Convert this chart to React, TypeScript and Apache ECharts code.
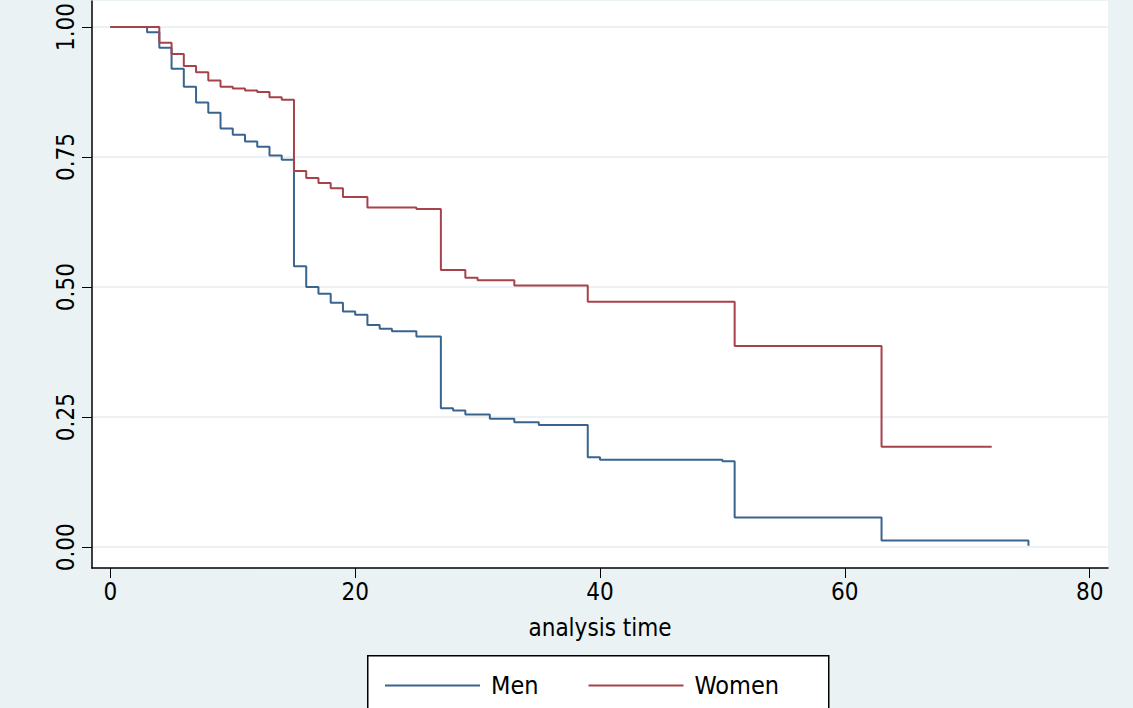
import { useEffect, useRef } from "react";
import * as echarts from "echarts";

const menTimes = [0, 3, 4, 5, 6, 7, 8, 9, 10, 11, 12, 13, 14, 15, 16, 17, 18, 19, 20, 21, 22, 23, 25, 27, 28, 29, 31, 33, 35, 39, 40, 50, 51, 63, 75, 75];
const menSurv = [1, 0.99, 0.96, 0.92, 0.885, 0.855, 0.835, 0.805, 0.793, 0.78, 0.77, 0.753, 0.745, 0.54, 0.5, 0.487, 0.47, 0.453, 0.447, 0.427, 0.42, 0.415, 0.405, 0.267, 0.263, 0.255, 0.247, 0.24, 0.235, 0.173, 0.168, 0.165, 0.057, 0.013, 0.013, 0.003];

const womenTimes = [0, 4, 5, 6, 7, 8, 9, 10, 11, 12, 13, 14, 15, 16, 17, 18, 19, 21, 25, 27, 29, 30, 33, 39, 51, 63, 72];
const womenSurv = [1, 0.97, 0.948, 0.925, 0.913, 0.897, 0.885, 0.882, 0.878, 0.875, 0.865, 0.86, 0.723, 0.71, 0.7, 0.69, 0.673, 0.653, 0.65, 0.533, 0.518, 0.513, 0.503, 0.472, 0.387, 0.193, 0.193];

const xTicks = [0, 20, 40, 60, 80];
const yTicks = [0, 0.25, 0.5, 0.75, 1];

const font = "'Liberation Sans Narrow', 'DejaVu Sans Condensed', 'Liberation Sans', sans-serif";

export default function App() {
  const chartRef = useRef<HTMLDivElement>(null);

  useEffect(() => {
    if (!chartRef.current) return;
    const chart = echarts.init(chartRef.current, null, { renderer: "svg" });

    const option = {
      animation: false,
      backgroundColor: "#eaf2f3",
      grid: { left: 92, top: 0, right: 25, bottom: 140, show: true, backgroundColor: "#ffffff", borderWidth: 0 },
      legend: {
        top: 668,
        left: 380,
        itemGap: 50,
        itemWidth: 95,
        itemHeight: 2,
        icon: "rect",
        textStyle: { fontFamily: font, fontSize: 25, color: "#000", padding: [0, 0, 0, 6] },
        data: ["Men", "Women"],
      },
      graphic: [
        {
          type: "rect",
          left: 367,
          top: 655,
          shape: { width: 461, height: 60 },
          style: { fill: "#fff", stroke: "#000", lineWidth: 1.5 },
          z: -1,
        },
      ],
      xAxis: {
        type: "value",
        min: -1.5,
        max: 81.5,
        name: "analysis time",
        nameLocation: "middle",
        nameGap: 48,
        nameTextStyle: { fontFamily: font, fontSize: 24, color: "#000" },
        axisLine: { show: true, onZero: false, lineStyle: { color: "#000", width: 1.5 } },
        axisTick: { show: true, length: 10, customValues: xTicks, lineStyle: { color: "#000" } },
        axisLabel: { customValues: xTicks, fontFamily: font, fontSize: 24, color: "#000", margin: 12 },
        splitLine: { show: false },
      },
      yAxis: {
        type: "value",
        min: -0.04,
        max: 1.05,
        axisLine: { show: true, onZero: false, lineStyle: { color: "#000", width: 1.5 } },
        axisTick: { show: true, length: 10, customValues: yTicks, lineStyle: { color: "#000" } },
        axisLabel: {
          customValues: yTicks,
          fontFamily: font,
          fontSize: 24,
          color: "#000",
          rotate: 90,
          margin: 14,
          formatter: (v: number) => v.toFixed(2),
        },
        splitLine: { show: false },
      },
      series: [
        {
          name: "Men",
          type: "line",
          step: "end",
          showSymbol: false,
          color: "#3a6490",
          lineStyle: { width: 2 },
          data: menTimes.map((t, i) => [t, menSurv[i]]),
          markLine: {
            silent: true,
            symbol: "none",
            label: { show: false },
            lineStyle: { color: "#e6eef0", width: 1.5, type: "solid" },
            data: yTicks.map((v) => ({ yAxis: v })),
            z: 0,
          },
        },
        {
          name: "Women",
          type: "line",
          step: "end",
          showSymbol: false,
          color: "#a8424a",
          lineStyle: { width: 2 },
          data: womenTimes.map((t, i) => [t, womenSurv[i]]),
        },
      ],
    };

    chart.setOption(option);
    return () => chart.dispose();
  }, []);

  return (
    <div
      ref={chartRef}
      style={{ position: "absolute", left: 0, top: 0, width: 1133, height: 708 }}
    />
  );
}
